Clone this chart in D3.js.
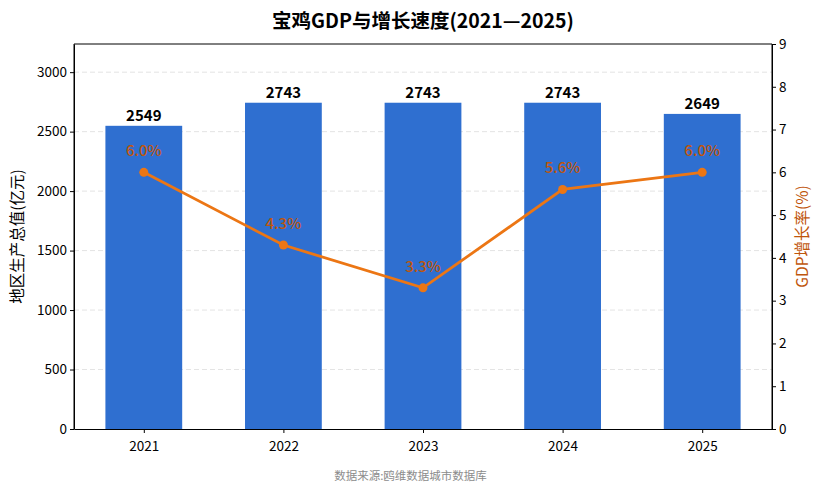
<!DOCTYPE html>
<html>
<head>
<meta charset="utf-8">
<script src="https://cdn.jsdelivr.net/npm/d3@7"></script>
<style>
  body { margin: 0; background: #fff; }
  svg text { font-family: "Noto Sans CJK SC", "Noto Sans", sans-serif; }
</style>
</head>
<body>
<div id="chart"></div>
<script>
// Данные
const years = ['2021', '2022', '2023', '2024', '2025'];
const gdpValues = [2549, 2743, 2743, 2743, 2649];
const growthRates = [6.0, 4.3, 3.3, 5.6, 6.0];
const leftTicks = [0, 500, 1000, 1500, 2000, 2500, 3000];
const rightTicks = [0, 1, 2, 3, 4, 5, 6, 7, 8, 9];

const width = 821, height = 494;
const margin = { top: 44, right: 49, bottom: 65, left: 74 };
const innerW = width - margin.left - margin.right;
const innerH = height - margin.top - margin.bottom;

const barColor = '#2f6fd0';
const lineColor = '#ec7614';
const labelColor = '#bf560c';

let svg = d3.select('#chart').append('svg')
    .attr('width', width).attr('height', height);

// Шкалы
let x = d3.scaleLinear().domain([-0.5, years.length - 0.5]).range([0, innerW]);
let yLeft = d3.scaleLinear().domain([0, d3.max(gdpValues) * 1.18]).range([innerH, 0]);
let yRight = d3.scaleLinear().domain([0, 9]).range([innerH, 0]);

let g = svg.append('g').attr('transform', `translate(${margin.left},${margin.top})`);

// Сетка
g.selectAll('.grid')
    .data(leftTicks.filter(d => d > 0))
    .enter().append('line')
    .attr('x1', 0).attr('x2', innerW)
    .attr('y1', d => yLeft(d)).attr('y2', d => yLeft(d))
    .attr('stroke', '#dcdcdc').attr('stroke-width', 0.8)
    .attr('stroke-dasharray', '5,3');

// Столбцы
const barW = x(0.55) - x(0);
g.selectAll('.bar')
    .data(gdpValues)
    .enter().append('rect')
    .attr('x', (d, i) => x(i) - barW / 2)
    .attr('y', d => yLeft(d))
    .attr('width', barW)
    .attr('height', d => innerH - yLeft(d))
    .attr('fill', barColor);

// Подписи столбцов
g.selectAll('.barLabel')
    .data(gdpValues)
    .enter().append('text')
    .attr('x', (d, i) => x(i))
    .attr('y', d => yLeft(d) - 5)
    .attr('text-anchor', 'middle')
    .style('font-size', '15px').style('font-weight', 'bold')
    .attr('fill', '#000')
    .text(d => d);

// Линия роста
let line = d3.line().x((d, i) => x(i)).y(d => yRight(d));
g.append('path')
    .datum(growthRates)
    .attr('d', line)
    .attr('fill', 'none')
    .attr('stroke', lineColor)
    .attr('stroke-width', 2.8);

g.selectAll('.point')
    .data(growthRates)
    .enter().append('circle')
    .attr('cx', (d, i) => x(i))
    .attr('cy', d => yRight(d))
    .attr('r', 4.5)
    .attr('fill', lineColor);

g.selectAll('.rateLabel')
    .data(growthRates)
    .enter().append('text')
    .attr('x', (d, i) => x(i))
    .attr('y', d => yRight(d) - 16)
    .attr('text-anchor', 'middle')
    .style('font-size', '15px').style('font-weight', '500')
    .attr('fill', labelColor)
    .text(d => d.toFixed(1) + '%');

// Оси
let xAxis = g.append('g').attr('transform', `translate(0,${innerH})`)
    .call(d3.axisBottom(x).tickValues(d3.range(years.length)).tickFormat(i => years[i]).tickSize(4).tickSizeOuter(0));
let leftAxis = g.append('g')
    .call(d3.axisLeft(yLeft).tickValues(leftTicks).tickFormat(d3.format('d')).tickSize(4).tickSizeOuter(0));
let rightAxis = g.append('g').attr('transform', `translate(${innerW},0)`)
    .call(d3.axisRight(yRight).tickValues(rightTicks).tickSize(4).tickSizeOuter(0));

[xAxis, leftAxis, rightAxis].forEach(a => {
    a.selectAll('text').style('font-size', '13.5px').attr('fill', '#000');
    a.selectAll('line').attr('stroke', '#000');
    a.select('.domain').attr('stroke', '#000');
});
xAxis.selectAll('text').attr('dy', '1.1em');

// Рамка
g.append('line').attr('x1', 0).attr('x2', innerW).attr('y1', 0).attr('y2', 0).attr('stroke', '#000');
g.append('line').attr('x1', 0).attr('x2', 0).attr('y1', 0).attr('y2', innerH).attr('stroke', '#000');
g.append('line').attr('x1', innerW).attr('x2', innerW).attr('y1', 0).attr('y2', innerH).attr('stroke', '#000');

// Заголовок и подписи осей
svg.append('text')
    .attr('x', margin.left + innerW / 2).attr('y', 28)
    .attr('text-anchor', 'middle')
    .style('font-size', '19.5px').style('font-weight', 'bold')
    .text('宝鸡GDP与增长速度(2021—2025)');

svg.append('text')
    .attr('transform', `translate(23,${margin.top + innerH / 2}) rotate(-90)`)
    .attr('text-anchor', 'middle')
    .style('font-size', '15.5px')
    .text('地区生产总值(亿元)');

svg.append('text')
    .attr('transform', `translate(808,${margin.top + innerH / 2}) rotate(-90)`)
    .attr('text-anchor', 'middle')
    .style('font-size', '15.5px')
    .attr('fill', labelColor)
    .text('GDP增长率(%)');

svg.append('text')
    .attr('x', width / 2).attr('y', 480)
    .attr('text-anchor', 'middle')
    .style('font-size', '11.5px')
    .attr('fill', '#8c8c8c')
    .text('数据来源:鸥维数据城市数据库');
</script>
</body>
</html>
